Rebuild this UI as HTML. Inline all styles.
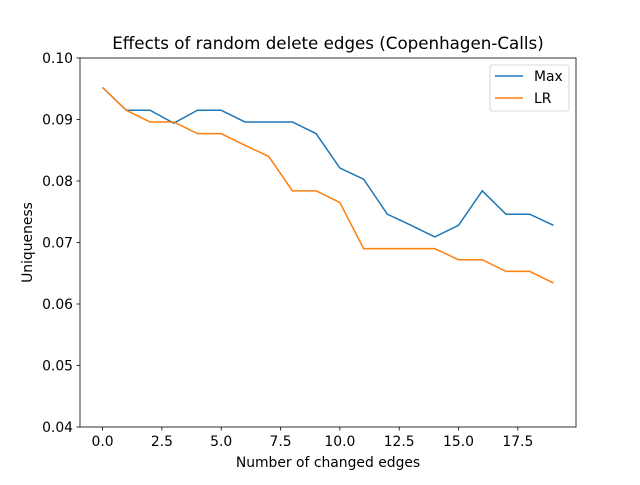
<!DOCTYPE html>
<html><head><meta charset="utf-8"><style>
body{margin:0;background:#fff;}
text{font-family:"DejaVu Sans","Liberation Sans",sans-serif;font-size:13.9px;fill:#000;}
</style></head><body>
<svg id="chart" width="640" height="480">
<rect width="640" height="480" fill="#fff"/>
<text x="328" y="49" text-anchor="middle" style="font-size:16.7px">Effects of random delete edges (Copenhagen-Calls)</text>
<g id="ticks"></g>
<g id="lines"></g>
<rect x="80" y="58" width="496" height="369" fill="none" stroke="#000" stroke-width="0.8"/>
<text x="328" y="467" text-anchor="middle">Number of changed edges</text>
<text transform="translate(32,242.5) rotate(-90)" text-anchor="middle">Uniqueness</text>
<g>
<rect x="490" y="65" width="79" height="46" rx="2" fill="#fff" stroke="#ccc" stroke-width="0.8"/>
<line x1="495" y1="76" x2="523" y2="76" stroke="#1f77b4" stroke-width="1.5"/>
<text x="534" y="81">Max</text>
<line x1="495" y1="98" x2="523" y2="98" stroke="#ff7f0e" stroke-width="1.5"/>
<text x="534" y="103">LR</text>
</g>
</svg>
<script>
const xValues=[0,1,2,3,4,5,6,7,8,9,10,11,12,13,14,15,16,17,18,19];
const maxSeries=[0.0952,0.0915,0.0915,0.0894,0.0915,0.0915,0.0896,0.0896,0.0896,0.0877,0.0821,0.0803,0.0746,0.0728,0.0709,0.0728,0.0784,0.0746,0.0746,0.0728];
const lrSeries=[0.0952,0.0915,0.0896,0.0896,0.0877,0.0877,0.0858,0.0840,0.0784,0.0784,0.0765,0.0690,0.0690,0.0690,0.0690,0.0672,0.0672,0.0653,0.0653,0.0634];
const xTicks=[0,2.5,5,7.5,10,12.5,15,17.5];
const xTickLabels=["0.0","2.5","5.0","7.5","10.0","12.5","15.0","17.5"];
const yTicks=[0.04,0.05,0.06,0.07,0.08,0.09,0.10];
const yTickLabels=["0.04","0.05","0.06","0.07","0.08","0.09","0.10"];
const NS="http://www.w3.org/2000/svg";
const xMin=-0.95,xMax=19.95,yMin=0.04,yMax=0.10;
const L=80,R=576,T=58,B=427;
function sx(v){return L+(v-xMin)/(xMax-xMin)*(R-L);}
function sy(v){return B-(v-yMin)/(yMax-yMin)*(B-T);}
const tg=document.getElementById('ticks');
xTicks.forEach((t,i)=>{
 const l=document.createElementNS(NS,'line');
 l.setAttribute('x1',sx(t));l.setAttribute('x2',sx(t));l.setAttribute('y1',B);l.setAttribute('y2',B+3.5);l.setAttribute('stroke','#000');l.setAttribute('stroke-width','0.8');
 
 
 tg.appendChild(l);
 const tx=document.createElementNS(NS,'text');
 tx.setAttribute('x',sx(t));tx.setAttribute('y',B+19);tx.setAttribute('text-anchor','middle');tx.textContent=xTickLabels[i];
 
 
 tg.appendChild(tx);
});
yTicks.forEach((t,i)=>{
 const l=document.createElementNS(NS,'line');
 l.setAttribute('x1',L-3.5);l.setAttribute('x2',L);l.setAttribute('y1',sy(t));l.setAttribute('y2',sy(t));l.setAttribute('stroke','#000');l.setAttribute('stroke-width','0.8');
 
 
 tg.appendChild(l);
 const tx=document.createElementNS(NS,'text');
 tx.setAttribute('x',L-7);tx.setAttribute('y',sy(t)+5);tx.setAttribute('text-anchor','end');tx.textContent=yTickLabels[i];
 
 
 tg.appendChild(tx);
});
const lg=document.getElementById('lines');
[[maxSeries,'#1f77b4','series-max'],[lrSeries,'#ff7f0e','series-lr']].forEach(([s,c,n])=>{
 const p=document.createElementNS(NS,'polyline');
 p.setAttribute('points',s.map((v,i)=>sx(xValues[i])+','+sy(v)).join(' '));
 p.setAttribute('fill','none');p.setAttribute('stroke',c);p.setAttribute('stroke-width','1.5');
 
 
 lg.appendChild(p);
});
</script>
</body></html>
